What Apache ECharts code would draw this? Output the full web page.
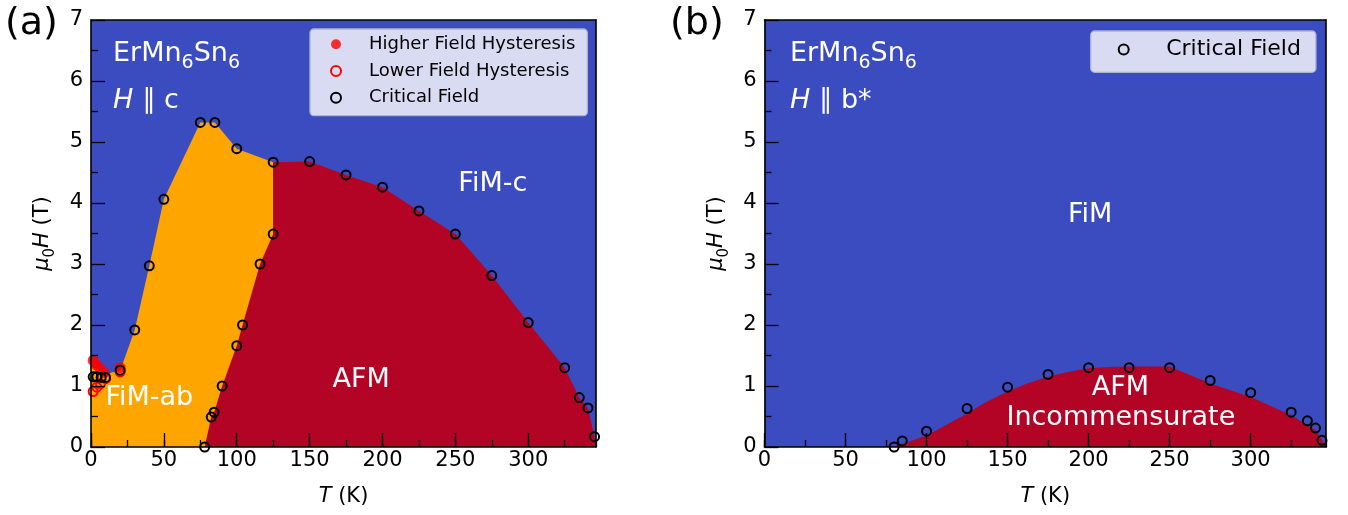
<!DOCTYPE html>
<html>
<head>
<meta charset="utf-8">
<script src="https://cdn.jsdelivr.net/npm/echarts@6.0.0/dist/echarts.min.js"></script>
<style>
html,body{margin:0;padding:0;background:#ffffff;}
#chart{width:1348px;height:515px;}
</style>
</head>
<body>
<div id="chart"></div>
<script>
// ---------------- data ----------------
// Panel (a): ErMn6Sn6, H || c   [T (K), mu0H (T)]
const aHigherFieldHysteresis = [[1.5,1.42],[3.5,1.35],[6,1.29],[9,1.22],[20,1.30]];
const aLowerFieldHysteresis  = [[1.5,0.91],[4,0.98],[6.5,1.04],[10,1.12],[20,1.23]];
const aCriticalField = [
  [1.5,1.15],[4,1.15],[7,1.14],[10,1.14],[20,1.26],[30,1.92],[40,2.97],[50,4.06],
  [75,5.32],[85,5.32],[100,4.89],[125,4.67],[125,3.49],[116,3.0],[104,2.0],[100,1.66],
  [90,1.0],[84.5,0.57],[82.5,0.49],[78,0],[150,4.68],[175,4.46],[200,4.26],[225,3.87],
  [250,3.49],[275,2.81],[300,2.04],[325,1.30],[335,0.81],[341,0.64],[345.5,0.17]
];
// upper edge of the FiM-ab (orange) phase
const aFimAbBoundary = [[0,1.32],[10,1.2],[20,1.25],[30,1.92],[40,2.97],[50,4.06],[75,5.32],[85,5.32],[100,4.89],[125,4.67]];
// upper edge of the AFM (red) phase
const aAfmBoundary = [
  [78,0],[82.5,0.49],[84.5,0.57],[90,1.0],[100,1.66],[104,2.0],[116,3.0],[125,3.49],[125,4.67],
  [150,4.68],[175,4.46],[200,4.26],[225,3.87],[250,3.49],[275,2.81],[300,2.04],[325,1.30],
  [335,0.81],[341,0.64],[345.5,0.17],[346.5,0.02]
];
// Panel (b): ErMn6Sn6, H || b*
const bCriticalField = [
  [80,0],[85,0.10],[100,0.26],[125,0.63],[150,0.98],[175,1.19],[200,1.30],[225,1.30],
  [250,1.30],[275,1.09],[300,0.89],[325,0.57],[335,0.43],[340,0.31],[344,0.11]
];
const bAfmBoundary = [
  [80,0],[85,0.05],[100,0.19],[112,0.36],[125,0.55],[137,0.74],[150,0.91],[162,1.04],[175,1.15],
  [187,1.23],[200,1.29],[212,1.31],[225,1.32],[250,1.32],[275,1.04],[300,0.82],[325,0.52],
  [340,0.28],[346.5,0.02]
];
const legendNamesA = ['Higher Field Hysteresis','Lower Field Hysteresis','Critical Field'];
const legendNamesB = ['Critical Field'];
const panelTags = ['(a)','(b)'];
const aTexts = ['{n|ErMn}{s|6}{n|Sn}{s|6}','{i|H}{n| ∥ c}','FiM-c','AFM','FiM-ab'];
const bTexts = ['{n|ErMn}{s|6}{n|Sn}{s|6}','{i|H}{n| ∥ b*}','FiM','AFM','Incommensurate'];
const xMax = 346.5, yMax = 7;

// ---------------- styling ----------------
const FONT = 'DejaVu Sans';
const BLUE = '#3b4cc0', ORANGE = '#ffa500', RED = '#b40426';
const aTextPos = [[15.1,6.44,'left'],[15.1,5.67,'left'],[275.7,4.31,'center'],[185.4,1.10,'center'],[40,0.81,'center']];
const bTextPos = [[15.7,6.44,'left'],[15.7,5.67,'left'],[200.9,3.8,'center'],[219.6,0.96,'center'],[219.9,0.47,'center']];

const chart = echarts.init(document.getElementById('chart'), null, {renderer:'canvas'});

const grids = [
  {left:91, top:20, width:505, height:427},
  {left:764.5, top:20, width:561.5, height:427}
];

function xAxesFor(g){
  return [
    {gridIndex:g, type:'value', min:0, max:xMax, interval:50, position:'bottom', z:10,
     name:'{i|T} (K)', nameLocation:'middle', nameGap:39,
     nameTextStyle:{fontSize:21, fontFamily:FONT, color:'#000',
       rich:{i:{fontSize:21, fontFamily:FONT, fontStyle:'italic', color:'#000'}}},
     axisLine:{show:true, onZero:false, lineStyle:{color:'#000', width:1.6}},
     axisTick:{show:true, inside:true, length:14, lineStyle:{color:'#000', width:1.3}},
     axisLabel:{show:true, fontSize:21, fontFamily:FONT, color:'#000', margin:3, showMaxLabel:false},
     splitLine:{show:false}},
    {gridIndex:g, type:'value', min:0, max:xMax, interval:25, position:'bottom', z:10,
     axisLine:{show:false}, axisLabel:{show:false}, splitLine:{show:false},
     axisTick:{show:true, inside:true, length:7, lineStyle:{color:'#000', width:1.3}}},
    {gridIndex:g, type:'value', min:0, max:1, position:'top', z:10,
     axisLine:{show:true, onZero:false, lineStyle:{color:'#000', width:1.6}},
     axisTick:{show:false}, axisLabel:{show:false}, splitLine:{show:false}}
  ];
}
function yAxesFor(g){
  return [
    {gridIndex:g, type:'value', min:0, max:yMax, interval:1, position:'left', z:10,
     name:'{m|μ}{s|0}{i|H}{n| (T)}', nameLocation:'middle', nameGap:33, nameRotate:90,
     nameTextStyle:{fontSize:21, fontFamily:FONT, color:'#000', lineHeight:30,
       rich:{
         m:{fontSize:21, fontFamily:FONT, fontStyle:'italic', color:'#000', lineHeight:30},
         s:{fontSize:15, fontFamily:FONT, color:'#000', lineHeight:14, verticalAlign:'bottom'},
         i:{fontSize:21, fontFamily:FONT, fontStyle:'italic', color:'#000', lineHeight:30},
         n:{fontSize:21, fontFamily:FONT, color:'#000', lineHeight:30}
       }},
     axisLine:{show:true, onZero:false, lineStyle:{color:'#000', width:1.6}},
     axisTick:{show:true, inside:true, length:14, lineStyle:{color:'#000', width:1.3}},
     minorTick:{show:true, splitNumber:2, length:7, lineStyle:{color:'#000', width:1.3}},
     axisLabel:{show:true, fontSize:21, fontFamily:FONT, color:'#000', margin:8},
     splitLine:{show:false}, minorSplitLine:{show:false}},
    {gridIndex:g, type:'value', min:0, max:1, position:'right', z:10,
     axisLine:{show:true, onZero:false, lineStyle:{color:'#000', width:1.6}},
     axisTick:{show:false}, axisLabel:{show:false}, splitLine:{show:false}}
  ];
}

function areaSeries(name, data, color, xi, yi, z){
  return {name:name, type:'line', data:data, xAxisIndex:xi, yAxisIndex:yi, z:z,
    symbol:'none', showSymbol:false, silent:true, smooth:false,
    lineStyle:{width:0, color:color}, itemStyle:{color:color},
    areaStyle:{color:color, opacity:1, origin:'start'}};
}
function openScatter(name, data, color, xi, yi, z){
  return {name:name, type:'scatter', data:data, xAxisIndex:xi, yAxisIndex:yi, z:z,
    symbol:'circle', symbolSize:9, silent:true,
    itemStyle:{color:'rgba(0,0,0,0)', borderColor:color, borderWidth:2, opacity:1}};
}

const legendBase = {
  orient:'vertical', selectedMode:false, icon:'circle', itemHeight:10,
  backgroundColor:'#d8dbf2', borderColor:'#afb2ca', borderWidth:1.3, borderRadius:4
};

const option = {
  animation:false,
  backgroundColor:'#ffffff',
  grid: grids.map(g => Object.assign({show:true, backgroundColor:BLUE, borderWidth:0, containLabel:false, outerBoundsMode:'none'}, g)),
  xAxis: xAxesFor(0).concat(xAxesFor(1)),
  yAxis: yAxesFor(0).concat(yAxesFor(1)),
  legend: [
    Object.assign({}, legendBase, {
      left:310, top:29, padding:[6.3,12,9,20], itemWidth:56, itemGap:8.7,
      textStyle:{fontSize:18, fontFamily:FONT, color:'#000', lineHeight:18},
      data:[
        {name:legendNamesA[0], icon:'circle', itemStyle:{color:'#ff0000', borderWidth:0}},
        {name:legendNamesA[1], icon:'circle', itemStyle:{color:'rgba(0,0,0,0)', borderColor:'#ff0000', borderWidth:2}},
        {name:legendNamesA[2], icon:'circle', itemStyle:{color:'rgba(0,0,0,0)', borderColor:'#000', borderWidth:2}}
      ]}),
    Object.assign({}, legendBase, {
      left:1090.7, top:31, padding:[7.5,15,11.8,27], itemWidth:65, itemGap:0,
      textStyle:{fontSize:22, fontFamily:FONT, color:'#000', lineHeight:22, padding:[0,0,0,5]},
      data:[
        {name:legendNamesB[0], icon:'circle', itemStyle:{color:'rgba(0,0,0,0)', borderColor:'#000', borderWidth:2}}
      ]})
  ],
  series: [
    areaSeries('FiM-ab', aFimAbBoundary, ORANGE, 0, 0, 2),
    areaSeries('AFM (a)', aAfmBoundary, RED, 0, 0, 3),
    {name:legendNamesA[0], type:'scatter', data:aHigherFieldHysteresis, xAxisIndex:0, yAxisIndex:0, z:5,
     symbol:'circle', symbolSize:11, silent:true, itemStyle:{color:'#ff0000', borderWidth:0}},
    openScatter(legendNamesA[1], aLowerFieldHysteresis, '#ff0000', 0, 0, 6),
    openScatter(legendNamesA[2], aCriticalField, '#000000', 0, 0, 7),
    areaSeries('AFM (b)', bAfmBoundary, RED, 3, 2, 3),
    openScatter(legendNamesB[0], bCriticalField, '#000000', 3, 2, 7)
  ]
};
chart.setOption(option);

// ---------------- text annotations ----------------
function richFor(){
  return {
    n:{fontSize:27, fontFamily:FONT, fill:'#fff', lineHeight:36},
    i:{fontSize:27, fontFamily:FONT, fontStyle:'italic', fill:'#fff', lineHeight:36},
    s:{fontSize:19, fontFamily:FONT, fill:'#fff', lineHeight:19, verticalAlign:'bottom'}
  };
}
const graphics = [];
function addTexts(texts, pos, finder){
  texts.forEach((t, k) => {
    const p = chart.convertToPixel(finder, [pos[k][0], pos[k][1]]);
    graphics.push({type:'text', x:p[0], y:p[1], z:20, silent:true,
      style:{text:t, fill:'#fff', fontSize:27, fontFamily:FONT, lineHeight:36,
        align:pos[k][2], verticalAlign:'middle', rich:richFor()}});
  });
}
addTexts(aTexts, aTextPos, {xAxisIndex:0, yAxisIndex:0});
addTexts(bTexts, bTextPos, {xAxisIndex:3, yAxisIndex:2});
const tagX = [5, 670];
panelTags.forEach((t, k) => {
  graphics.push({type:'text', x:tagX[k], y:24, z:20, silent:true,
    style:{text:t, fill:'#000', fontSize:38, fontFamily:FONT, align:'left', verticalAlign:'middle'}});
});
chart.setOption({graphic: graphics});
</script>
</body>
</html>
